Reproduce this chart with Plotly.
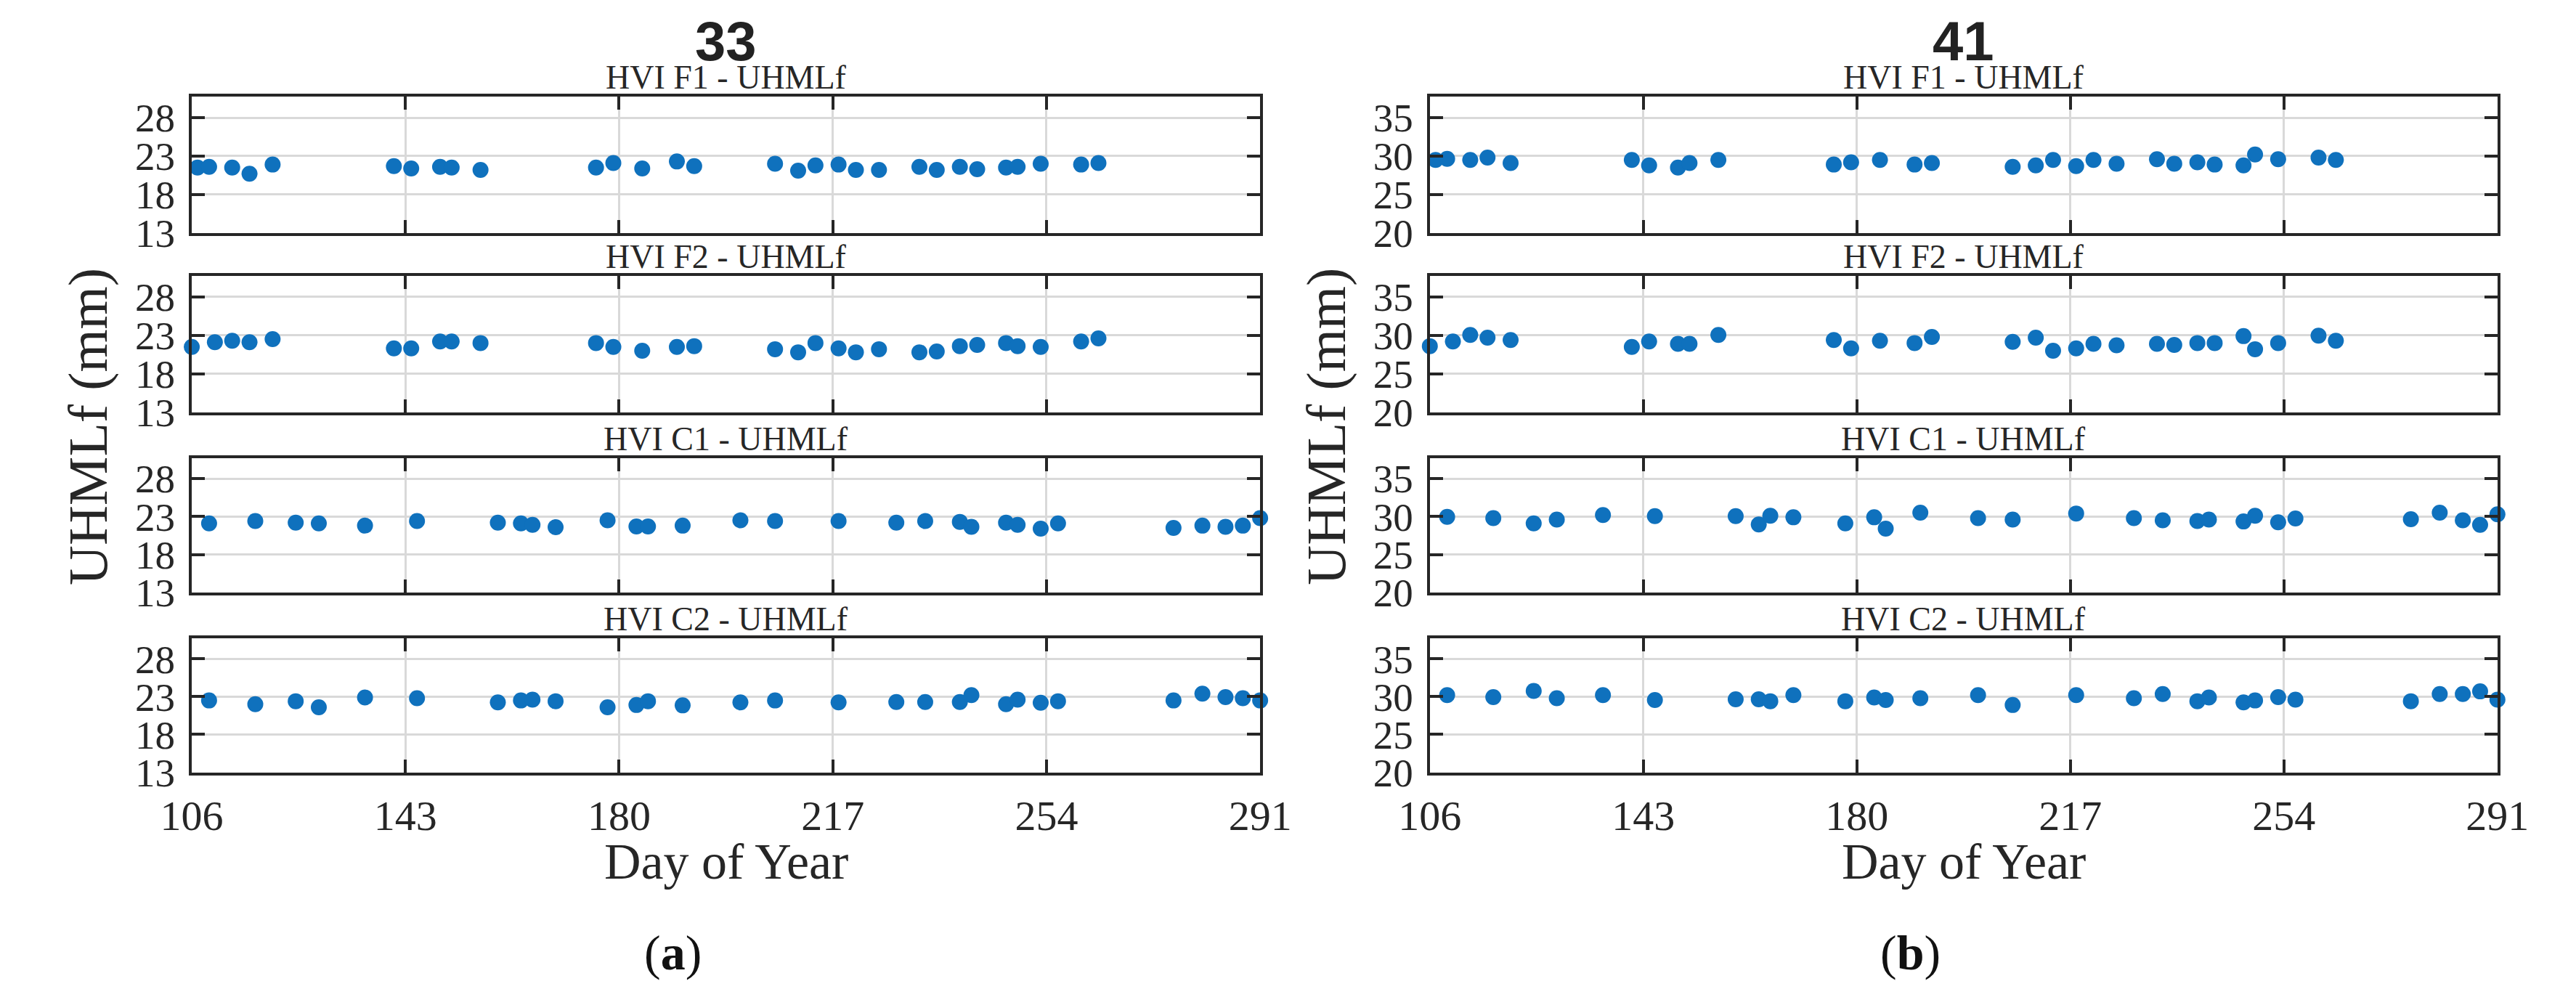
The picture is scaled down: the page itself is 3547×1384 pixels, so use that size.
import plotly.graph_objects as go

W, H = 3547, 1384

# ---------------- data ----------------
days_f1 = [107, 109, 113, 116, 120, 141, 144, 149, 151, 156, 176, 179, 184, 190, 193,
           207, 211, 214, 218, 221, 225, 232, 235, 239, 242, 247, 249, 253, 260, 263]
days_f2 = [106, 110, 113, 116, 120, 141, 144, 149, 151, 156, 176, 179, 184, 190, 193,
           207, 211, 214, 218, 221, 225, 232, 235, 239, 242, 247, 249, 253, 260, 263]
days_c = [109, 117, 124, 128, 136, 145, 159, 163, 165, 169, 178, 183, 185, 191,
          201, 207, 218, 228, 233, 239, 241, 247, 249, 253, 256, 276, 281, 285, 288, 291]

a_f1 = [21.5, 21.6, 21.5, 20.7, 21.9, 21.7, 21.4, 21.6, 21.5, 21.2, 21.5, 22.1, 21.4, 22.3, 21.7,
        22.0, 21.1, 21.8, 21.9, 21.2, 21.2, 21.6, 21.2, 21.6, 21.3, 21.5, 21.6, 22.0, 21.9, 22.1]
a_f2 = [21.5, 22.1, 22.3, 22.1, 22.5, 21.3, 21.3, 22.2, 22.2, 22.0, 22.0, 21.5, 21.0, 21.5, 21.6,
        21.2, 20.8, 22.0, 21.3, 20.8, 21.2, 20.8, 20.9, 21.6, 21.75, 22.0, 21.6, 21.5, 22.2, 22.6]
a_c1 = [22.1, 22.4, 22.2, 22.1, 21.8, 22.4, 22.2, 22.1, 21.9, 21.6, 22.5, 21.7, 21.7, 21.8,
        22.5, 22.4, 22.4, 22.2, 22.4, 22.3, 21.65, 22.2, 21.9, 21.4, 22.1, 21.5, 21.8, 21.65, 21.8, 22.8]
a_c2 = [22.5, 22.0, 22.4, 21.6, 22.9, 22.8, 22.25, 22.5, 22.6, 22.4, 21.6, 21.9, 22.4, 21.85,
        22.25, 22.5, 22.25, 22.3, 22.3, 22.3, 23.2, 22.0, 22.6, 22.2, 22.4, 22.5, 23.4, 22.95, 22.8, 22.5]

b_f1 = [29.5, 29.65, 29.5, 29.8, 29.1, 29.5, 28.8, 28.5, 29.1, 29.5, 28.9, 29.2, 29.5, 28.9, 29.1,
        28.6, 28.8, 29.5, 28.7, 29.5, 29.0, 29.6, 29.0, 29.2, 28.9, 28.8, 30.2, 29.6, 29.8, 29.5]
b_f2 = [28.6, 29.2, 30.05, 29.7, 29.4, 28.5, 29.2, 28.9, 28.9, 30.05, 29.4, 28.3, 29.3, 29.0, 29.8,
        29.15, 29.7, 28.0, 28.3, 28.9, 28.7, 28.9, 28.75, 29.0, 29.0, 29.9, 28.2, 29.0, 29.95, 29.3]
b_c1 = [29.95, 29.8, 29.1, 29.6, 30.2, 30.05, 30.05, 28.95, 30.1, 29.9, 29.1, 29.9, 28.4, 30.5,
        29.8, 29.6, 30.4, 29.8, 29.5, 29.4, 29.6, 29.35, 30.1, 29.25, 29.75, 29.65, 30.5, 29.5, 28.9, 30.3]
b_c2 = [30.2, 29.95, 30.75, 29.8, 30.2, 29.55, 29.65, 29.65, 29.4, 30.2, 29.4, 29.9, 29.55, 29.8,
        30.2, 28.9, 30.2, 29.8, 30.35, 29.4, 29.9, 29.25, 29.5, 29.95, 29.6, 29.4, 30.35, 30.35, 30.7, 29.6]

subplot_titles = ["HVI F1 - UHMLf", "HVI F2 - UHMLf", "HVI C1 - UHMLf", "HVI C2 - UHMLf"]
group_titles = ["33", "41"]
panel_labels = ["a", "b"]
x_ticks = [106, 143, 180, 217, 254, 291]
y_ticks_a = [13, 18, 23, 28]
y_ticks_b = [20, 25, 30, 35]
y_range_a = [13, 30.7]
y_range_b = [20, 37.7]
x_title = "Day of Year"
y_title = "UHMLf (mm)"

columns = [
    dict(days=[days_f1, days_f2, days_c, days_c], vals=[a_f1, a_f2, a_c1, a_c2],
         ticks=y_ticks_a, rng=y_range_a),
    dict(days=[days_f1, days_f2, days_c, days_c], vals=[b_f1, b_f2, b_c1, b_c2],
         ticks=y_ticks_b, rng=y_range_b),
]

# ---------------- layout geometry (pixels) ----------------
col_px = [(218.4, 1726.5), (1966.0, 3473.0)]
row_px = [(127.4, 319.2), (379.8, 572.2), (636.5, 826.0), (890.8, 1079.5)]

def px_x(x):
    return x / W

def px_y(y):
    return 1 - y / H

SERIF = "Liberation Serif"
TXT = "#262626"
AX = "#262626"
DOT = "#0f71bd"

fig = go.Figure()
layout = dict(
    width=W, height=H,
    margin=dict(l=0, r=0, t=0, b=0),
    paper_bgcolor="white", plot_bgcolor="white",
    showlegend=False,
    font=dict(family=SERIF, color=TXT),
)
annotations = []

k = 0
for c, col in enumerate(columns):
    x0, x1 = col_px[c]
    for r in range(4):
        k += 1
        y0, y1 = row_px[r]
        xa = "xaxis" if k == 1 else f"xaxis{k}"
        ya = "yaxis" if k == 1 else f"yaxis{k}"
        fig.add_trace(go.Scatter(
            x=col["days"][r], y=col["vals"][r], mode="markers",
            marker=dict(color=DOT, size=22, line=dict(width=0)),
            cliponaxis=False,
            xaxis=f"x{k}" if k > 1 else "x", yaxis=f"y{k}" if k > 1 else "y",
            hoverinfo="skip",
        ))
        layout[xa] = dict(
            domain=[px_x(x0), px_x(x1)], anchor=f"y{k}" if k > 1 else "y",
            range=[106, 291], tickvals=x_ticks, ticktext=[str(t) for t in x_ticks],
            showticklabels=(r == 3),
            showgrid=True, gridcolor="#d9d9d9", gridwidth=3, zeroline=False,
            showline=True, linecolor=AX, linewidth=4, mirror="ticks",
            ticks="inside", ticklen=18, tickwidth=4, tickcolor=AX,
            tickfont=dict(family=SERIF, size=58, color=TXT),
            ticklabelstandoff=6,
        )
        layout[ya] = dict(
            domain=[px_y(y1), px_y(y0)], anchor=f"x{k}" if k > 1 else "x",
            range=col["rng"], tickvals=col["ticks"], ticktext=[str(t) for t in col["ticks"]],
            showgrid=True, gridcolor="#d9d9d9", gridwidth=3, zeroline=False,
            showline=True, linecolor=AX, linewidth=4, mirror="ticks",
            ticks="inside", ticklen=18, tickwidth=4, tickcolor=AX,
            tickfont=dict(family=SERIF, size=55, color=TXT),
            ticklabelstandoff=8,
        )
        annotations.append(dict(
            text=subplot_titles[r], x=px_x((x0 + x1) / 2), y=px_y(y0 + 1),
            xref="paper", yref="paper", xanchor="center", yanchor="bottom",
            showarrow=False, font=dict(family=SERIF, size=46, color=TXT),
        ))
    cx = (x0 + x1) / 2
    annotations.append(dict(
        text=f"<b>{group_titles[c]}</b>", x=px_x(cx), y=px_y(49),
        xref="paper", yref="paper", xanchor="center", yanchor="middle",
        showarrow=False, font=dict(family="Liberation Sans", size=76, color="#222222"),
    ))
    annotations.append(dict(
        text=x_title, x=px_x(cx), y=px_y(1205),
        xref="paper", yref="paper", xanchor="center", yanchor="middle",
        showarrow=False, font=dict(family=SERIF, size=70, color=TXT),
    ))
    annotations.append(dict(
        text=y_title, x=px_x(x0 - 146), y=px_y(592), textangle=-90,
        xref="paper", yref="paper", xanchor="center", yanchor="middle",
        showarrow=False, font=dict(family=SERIF, size=76, color=TXT),
    ))
    annotations.append(dict(
        text=f"(<b>{panel_labels[c]}</b>)", x=px_x(cx - 75), y=px_y(1334),
        xref="paper", yref="paper", xanchor="center", yanchor="middle",
        showarrow=False, font=dict(family=SERIF, size=68, color="#111111"),
    ))

layout["annotations"] = annotations
fig.update_layout(**layout)
fig.write_html("out.html")
